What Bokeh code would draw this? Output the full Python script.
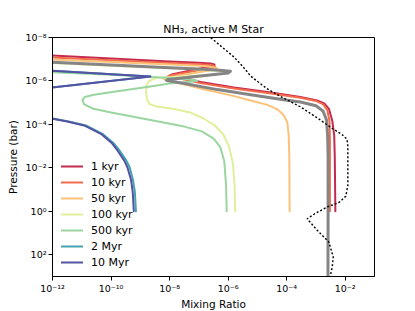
from bokeh.plotting import figure
from bokeh.models import Range1d, FixedTicker, Legend, LegendItem
from bokeh.embed import file_html
from bokeh.resources import INLINE

# ---- data (mixing ratio, pressure in bar) ----
labels = ["1 kyr", "10 kyr", "50 kyr", "100 kyr", "500 kyr", "2 Myr", "10 Myr"]

x_1kyr = [3.2e-13, 1.0e-10, 1.0e-8, 1.0e-7, 2.5e-7, 3.4e-7, 3.2e-7, 1.26e-8, 1.07e-8, 2.5e-8,
          1.15e-7, 1.58e-6, 2.2e-5, 2.95e-4, 1.1e-3, 2.0e-3, 2.8e-3, 3.6e-3, 4.2e-3, 4.4e-3, 4.6e-3]
p_1kyr = [6.3e-8, 9.3e-8, 1.26e-7, 1.45e-7, 1.58e-7, 1.74e-7, 2.0e-7, 4.9e-7, 5.4e-7, 6.8e-7,
          1.12e-6, 2.0e-6, 3.2e-6, 5.5e-6, 7.9e-6, 1.12e-5, 2.0e-5, 6.6e-5, 3.2e-4, 3.2e-3, 1.0]

x_10kyr = [3.2e-13, 1.0e-10, 1.0e-8, 1.0e-7, 2.5e-7, 3.6e-7, 3.3e-7, 1.0e-8, 8.7e-9, 2.0e-8,
           1.15e-7, 1.58e-6, 2.2e-5, 2.95e-4, 1.0e-3, 1.78e-3, 2.45e-3, 2.9e-3, 3.0e-3, 3.0e-3]
p_10kyr = [7.8e-8, 1.12e-7, 1.48e-7, 1.7e-7, 1.86e-7, 2.1e-7, 2.4e-7, 5.6e-7, 6.2e-7, 7.6e-7,
           1.26e-6, 2.2e-6, 3.55e-6, 5.9e-6, 8.3e-6, 1.2e-5, 2.24e-5, 7.1e-5, 5.0e-4, 1.0]

x_50kyr = [3.2e-13, 1.0e-10, 1.0e-8, 1.0e-7, 2.5e-7, 4.1e-7, 3.55e-7, 7.9e-9, 6.3e-9, 1.26e-8,
           1.15e-7, 1.58e-6, 5.9e-6, 2.2e-5, 5.0e-5, 7.9e-5, 1.05e-4, 1.17e-4, 1.23e-4, 1.26e-4]
p_50kyr = [9.5e-8, 1.35e-7, 1.74e-7, 2.0e-7, 2.2e-7, 2.5e-7, 2.95e-7, 7.2e-7, 8.3e-7, 1.05e-6,
           2.24e-6, 5.0e-6, 7.9e-6, 1.26e-5, 2.1e-5, 3.8e-5, 7.9e-5, 3.16e-4, 3.16e-3, 1.0]

x_100kyr = [3.2e-13, 1.0e-10, 1.0e-8, 1.0e-7, 5.0e-7, 1.05e-6, 7.9e-7, 3.2e-8, 3.4e-9, 2.0e-9,
            1.62e-9, 1.58e-9, 1.74e-9, 2.1e-9, 3.55e-9, 1.26e-8, 5.0e-8, 1.4e-7, 3.55e-7, 7.1e-7,
            1.07e-6, 1.45e-6, 1.66e-6, 1.74e-6]
p_100kyr = [1.38e-7, 2.0e-7, 2.6e-7, 3.0e-7, 3.5e-7, 4.0e-7, 4.6e-7, 6.3e-7, 7.4e-7, 1.0e-6,
            1.58e-6, 3.55e-6, 7.9e-6, 1.17e-5, 1.5e-5, 1.9e-5, 2.8e-5, 5.2e-5, 1.12e-4, 3.16e-4,
            1.0e-3, 6.3e-3, 6.3e-2, 1.0]

x_500kyr = [3.2e-13, 1.0e-10, 1.0e-8, 6.3e-8, 8.9e-8, 5.0e-8, 1.0e-8, 2.2e-9, 1.66e-10, 2.6e-11,
            1.26e-11, 1.05e-11, 1.2e-11, 2.5e-11, 1.0e-10, 2.2e-9, 3.2e-8, 1.26e-7, 3.2e-7, 5.4e-7,
            7.4e-7, 8.5e-7, 8.9e-7]
p_500kyr = [3.7e-7, 5.2e-7, 7.4e-7, 8.9e-7, 9.8e-7, 1.1e-6, 1.32e-6, 1.78e-6, 3.0e-6, 4.3e-6,
            5.5e-6, 7.6e-6, 1.2e-5, 1.9e-5, 2.8e-5, 6.3e-5, 1.26e-4, 2.1e-4, 4.5e-4, 1.12e-3,
            5.0e-3, 6.3e-2, 1.0]

x_2myr = [1.0e-13, 2.2e-9, 1.0e-13, 1.0e-13, 1.0e-12, 3.55e-12, 1.38e-11, 5.1e-11, 1.2e-10,
          1.95e-10, 3.3e-10, 4.3e-10, 5.6e-10, 6.5e-10, 7.1e-10]
p_2myr = [2.8e-7, 6.2e-7, 2.8e-6, 3.8e-5, 5.4e-5, 7.4e-5, 1.12e-4, 2.7e-4, 7.1e-4,
          1.58e-3, 4.5e-3, 9.1e-3, 3.5e-2, 0.126, 1.0]

x_10myr = [1.0e-13, 2.2e-9, 1.0e-13, 1.0e-13, 1.0e-12, 3.2e-12, 1.2e-11, 4.5e-11, 1.05e-10,
           1.66e-10, 2.8e-10, 3.6e-10, 4.8e-10, 5.5e-10, 6.0e-10]
p_10myr = [2.8e-7, 6.2e-7, 2.8e-6, 4.0e-5, 5.5e-5, 7.4e-5, 1.12e-4, 2.7e-4, 7.1e-4,
           1.58e-3, 4.5e-3, 9.1e-3, 3.5e-2, 0.126, 1.0]

x_gray = [3.2e-13, 1.0e-10, 1.0e-8, 1.0e-7, 5.0e-7, 1.2e-6, 1.0e-6, 3.2e-8, 8.9e-9, 7.9e-9,
          1.26e-8, 3.2e-8, 4.3e-7, 5.9e-6, 7.9e-5, 2.95e-4, 1.0e-3, 1.74e-3, 2.3e-3, 2.5e-3,
          2.6e-3, 2.6e-3, 2.57e-3]
p_gray = [1.29e-7, 1.86e-7, 2.45e-7, 2.8e-7, 3.2e-7, 3.6e-7, 4.3e-7, 7.1e-7, 8.5e-7, 9.5e-7,
          1.07e-6, 1.32e-6, 2.5e-6, 4.3e-6, 7.4e-6, 9.3e-6, 1.38e-5, 2.4e-5, 6.3e-5, 3.16e-4,
          3.16e-3, 1.0, 1.6e3]

x_dotted = [2.0e-7, 2.5e-7, 6.3e-7, 1.58e-6, 3.2e-6, 5.9e-6, 2.1e-5, 7.9e-5, 2.95e-4, 1.1e-3,
            3.55e-3, 7.9e-3, 1.15e-2, 1.23e-2, 1.23e-2, 1.05e-2, 6.3e-3, 2.45e-3, 1.0e-3, 5.0e-4,
            1.1e-3, 2.75e-3, 3.9e-3, 3.6e-3, 2.95e-3]
p_dotted = [7.9e-9, 1.0e-8, 2.8e-8, 7.9e-8, 2.2e-7, 6.0e-7, 2.24e-6, 6.2e-6, 1.55e-5, 5.0e-5,
            1.5e-4, 3.0e-4, 4.8e-4, 1.0e-3, 6.3e-2, 0.2, 0.38, 0.63, 1.2, 2.2,
            7.4, 25.7, 126, 363, 1260]

x_ticks = [1e-12, 1e-10, 1e-8, 1e-6, 1e-4, 1e-2]
x_tick_labels = ["10\u207b\u00b9\u00b2", "10\u207b\u00b9\u2070", "10\u207b\u2078",
                 "10\u207b\u2076", "10\u207b\u2074", "10\u207b\u00b2"]
y_ticks = [1e-8, 1e-6, 1e-4, 1e-2, 1e0, 1e2]
y_tick_labels = ["10\u207b\u2078", "10\u207b\u2076", "10\u207b\u2074", "10\u207b\u00b2",
                 "10\u2070", "10\u00b2"]

# ---- styles ----
colors = ["#c42a50", "#f26b4a", "#fdc27a", "#e0f09a", "#9bd5a0", "#45a3b0", "#5452a3"]
FONT = "DejaVu Sans"

p = figure(frame_width=322, frame_height=239,
           x_axis_type="log", y_axis_type="log",
           x_range=Range1d(1e-12, 1e-1), y_range=Range1d(1e3, 1e-8),
           output_backend="svg", toolbar_location=None,
           min_border_left=52, min_border_top=37, min_border_right=20, min_border_bottom=5,
           title="NH\u2083, active M Star")

p.title.text_font = FONT
p.title.text_font_size = "11px"
p.title.text_font_style = "normal"
p.title.text_color = "black"
p.title.align = "center"
p.title.standoff = 4

p.xgrid.visible = False
p.ygrid.visible = False
p.outline_line_color = "black"
p.outline_line_alpha = 1
p.outline_line_width = 1

for ax in (p.xaxis[0], p.yaxis[0]):
    ax.major_tick_in = 0
    ax.major_tick_out = 4
    ax.major_tick_line_color = "black"
    ax.minor_tick_line_color = None
    ax.axis_line_color = "black"
    ax.major_label_text_font = FONT
    ax.major_label_text_font_size = "9.5px"
    ax.major_label_text_color = "black"
    ax.major_label_standoff = 2
    ax.axis_label_text_font = FONT
    ax.axis_label_text_font_size = "10.5px"
    ax.axis_label_text_font_style = "normal"
    ax.axis_label_text_color = "black"
    ax.axis_label_standoff = 1

p.xaxis.axis_label = "Mixing Ratio"
p.yaxis.axis_label = "Pressure (bar)"
p.yaxis.axis_label_standoff = 4
p.xaxis.ticker = FixedTicker(ticks=x_ticks)
p.yaxis.ticker = FixedTicker(ticks=y_ticks)
p.xaxis.major_label_overrides = dict(zip(x_ticks, x_tick_labels))
p.yaxis.major_label_overrides = dict(zip(y_ticks, y_tick_labels))

series = [(x_1kyr, p_1kyr), (x_10kyr, p_10kyr), (x_50kyr, p_50kyr), (x_100kyr, p_100kyr),
          (x_500kyr, p_500kyr), (x_2myr, p_2myr), (x_10myr, p_10myr)]

items = []
for (xs, ps), lab, col in zip(series, labels, colors):
    r = p.line(xs, ps, line_color=col, line_width=2, line_join="round", line_cap="round")
    items.append(LegendItem(label=lab, renderers=[r]))

p.line(x_gray, p_gray, line_color="#858585", line_width=3, line_join="round", line_cap="round")
p.line(x_dotted, p_dotted, line_color="black", line_width=1.4, line_dash="2 2")

legend = Legend(items=items, location=(9, 6))
legend.label_text_font = FONT
legend.label_text_font_size = "11px"
legend.label_text_color = "black"
legend.glyph_width = 22
legend.glyph_height = 16
legend.label_height = 16
legend.label_standoff = 8
legend.spacing = 0
legend.padding = 0
legend.margin = 0
legend.border_line_alpha = 0
legend.background_fill_alpha = 0
p.add_layout(legend)

open("out.html", "w").write(file_html(p, INLINE))
